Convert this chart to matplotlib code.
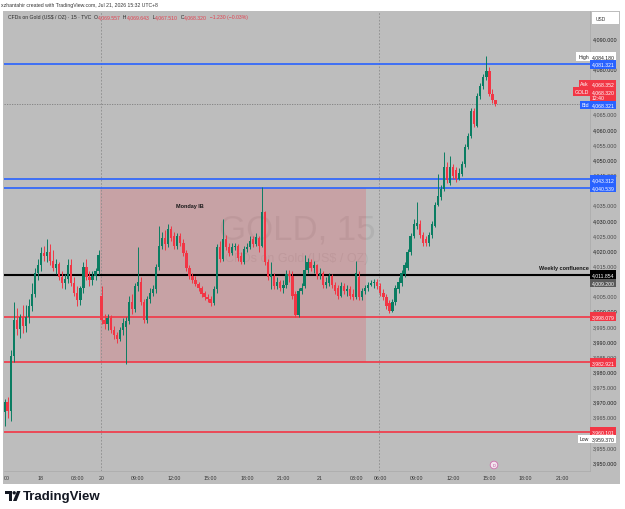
import numpy as np
import matplotlib
matplotlib.use("Agg")
import matplotlib.pyplot as plt
from matplotlib.patches import Rectangle, Circle, Polygon
from matplotlib.transforms import blended_transform_factory, offset_copy

plt.rcParams['font.family'] = ['Liberation Sans', 'DejaVu Sans']

# 15 min bars, UTC+8. (open, high, low, close)
# Fri 17 Jul 21:00 -> Sat 04:45
friday = [
    (3966.5, 3971.0, 3962.0, 3970.0), (3970.0, 3971.5, 3964.5, 3967.0),
    (3967.0, 3987.0, 3963.5, 3985.0), (3985.0, 4003.0, 3983.0, 3997.0),
    (3997.0, 4001.0, 3992.0, 3994.0), (3994.0, 3999.0, 3991.0, 3998.0),
    (3998.0, 4002.0, 3992.5, 3995.0), (3995.0, 4002.0, 3993.0, 3998.0),
    (3998.0, 4004.0, 3996.0, 4001.5), (4001.5, 4009.0, 4000.0, 4005.5),
    (4005.5, 4014.0, 4004.5, 4012.5), (4012.5, 4017.0, 4010.0, 4015.0),
    (4015.0, 4021.0, 4013.0, 4019.0), (4019.0, 4021.5, 4016.5, 4018.0),
    (4018.0, 4023.7, 4016.0, 4019.5), (4019.5, 4022.0, 4015.0, 4016.5),
    (4016.5, 4020.0, 4013.0, 4014.0), (4014.0, 4017.0, 4012.0, 4015.5),
    (4015.5, 4016.0, 4010.0, 4011.0), (4011.0, 4013.0, 4007.5, 4009.0),
    (4009.0, 4012.0, 4007.0, 4010.5), (4010.5, 4017.0, 4009.0, 4015.0),
    (4015.0, 4017.0, 4008.0, 4009.0), (4009.0, 4011.0, 4005.0, 4006.0),
    (4006.0, 4008.0, 4001.5, 4003.5), (4003.5, 4008.0, 4002.0, 4007.5),
    (4007.5, 4016.0, 4006.0, 4014.5), (4014.5, 4017.0, 4010.0, 4011.0),
    (4011.0, 4013.0, 4008.0, 4010.0), (4010.0, 4013.0, 4008.5, 4011.5),
    (4011.5, 4014.0, 4010.0, 4013.0), (4013.0, 4020.0, 4012.0, 4018.5),
]
# Mon 20 Jul 06:00 -> Tue 04:45
monday = [
    (4005.0, 4008.0, 3995.5, 3997.0), (3997.0, 3999.0, 3994.0, 3995.5),
    (3995.5, 3999.0, 3993.5, 3997.5), (3997.5, 3998.5, 3992.5, 3993.5),
    (3993.5, 3995.0, 3990.5, 3992.0), (3992.0, 3993.0, 3989.5, 3990.5),
    (3990.5, 3994.5, 3990.0, 3993.5), (3993.5, 3997.5, 3992.0, 3996.0),
    (3994.5, 3998.0, 3982.5, 3996.5), (3996.5, 4005.0, 3995.5, 4003.0),
    (4003.0, 4005.5, 3999.0, 4000.5), (4000.5, 4009.0, 3999.5, 4008.0),
    (4008.0, 4021.0, 4006.5, 4009.5), (4009.5, 4011.0, 4002.0, 4003.0),
    (4003.0, 4004.0, 3995.8, 3997.0), (3997.0, 4005.0, 3996.0, 4004.0),
    (4004.0, 4007.5, 4002.5, 4006.0), (4006.0, 4008.5, 4005.0, 4007.0),
    (4007.0, 4015.5, 4006.0, 4014.5), (4014.5, 4028.0, 4013.5, 4021.5),
    (4021.5, 4026.0, 4020.5, 4024.0), (4024.0, 4026.5, 4020.0, 4022.0),
    (4022.0, 4028.5, 4021.0, 4027.0), (4027.0, 4027.8, 4023.0, 4024.0),
    (4024.5, 4026.0, 4020.5, 4021.5), (4021.5, 4025.5, 4020.5, 4024.5),
    (4024.5, 4025.5, 4021.5, 4022.5), (4022.5, 4023.5, 4018.0, 4019.0),
    (4019.0, 4020.0, 4013.0, 4014.0), (4014.0, 4015.0, 4010.5, 4011.5),
    (4011.5, 4012.5, 4009.0, 4010.0), (4010.0, 4011.5, 4008.0, 4008.8),
    (4008.8, 4009.5, 4006.5, 4007.5), (4007.5, 4008.0, 4004.5, 4005.5),
    (4006.0, 4006.5, 4003.5, 4004.5), (4004.5, 4005.5, 4003.0, 4004.0),
    (4004.0, 4005.0, 4001.5, 4002.5), (4002.5, 4008.0, 4002.0, 4007.0),
    (4007.0, 4022.0, 4006.0, 4021.0), (4021.0, 4023.0, 4016.0, 4017.0),
    (4017.0, 4030.3, 4016.5, 4023.5), (4023.5, 4025.0, 4020.0, 4021.0),
    (4021.0, 4022.5, 4018.0, 4019.0), (4019.0, 4022.5, 4018.5, 4021.0),
    (4021.0, 4022.5, 4020.0, 4021.5), (4021.5, 4022.0, 4016.5, 4017.5),
    (4018.0, 4019.5, 4015.5, 4016.0), (4016.0, 4021.5, 4015.5, 4020.5),
    (4020.5, 4022.5, 4019.5, 4021.0), (4021.0, 4024.5, 4020.5, 4023.0),
    (4023.5, 4024.5, 4021.0, 4022.0), (4022.0, 4025.5, 4021.5, 4024.3),
    (4024.0, 4024.5, 4019.5, 4021.5), (4021.5, 4040.8, 4021.0, 4032.5),
    (4032.5, 4033.0, 4015.0, 4016.0), (4016.0, 4017.0, 4010.0, 4011.0),
    (4011.0, 4016.0, 4007.0, 4012.0), (4011.5, 4012.5, 4007.0, 4008.0),
    (4008.0, 4011.0, 4007.0, 4009.5), (4009.5, 4010.0, 4006.5, 4007.5),
    (4007.5, 4010.0, 4006.0, 4008.5), (4008.5, 4013.5, 4007.5, 4012.0),
    (4012.0, 4013.5, 4009.5, 4011.5), (4011.5, 4013.0, 4004.0, 4005.0),
    (4005.5, 4006.5, 3997.8, 3998.5), (3998.5, 4007.5, 3998.0, 4006.5),
    (4006.5, 4009.0, 4005.5, 4007.5), (4008.0, 4018.5, 4007.5, 4013.5),
    (4013.5, 4017.5, 4012.5, 4016.0), (4016.0, 4017.0, 4013.0, 4014.0),
    (4014.0, 4016.5, 4012.5, 4015.0), (4015.0, 4015.5, 4010.5, 4011.5),
    (4011.5, 4014.0, 4010.5, 4012.5), (4012.5, 4013.0, 4007.5, 4008.5),
    (4008.5, 4011.0, 4007.5, 4009.5), (4009.0, 4012.5, 4008.0, 4011.5),
    (4011.5, 4012.0, 4007.5, 4008.5), (4008.5, 4009.5, 4005.5, 4006.5),
    (4007.5, 4008.5, 4004.0, 4005.0), (4005.0, 4009.5, 4004.5, 4008.0),
    (4008.0, 4009.0, 4005.5, 4006.5), (4006.5, 4008.5, 4005.0, 4007.0),
    (4007.0, 4008.0, 4004.0, 4005.0), (4005.5, 4007.0, 4003.5, 4004.5),
    (4004.5, 4016.5, 4004.0, 4012.5), (4011.0, 4013.0, 4003.5, 4004.5),
    (4004.5, 4007.5, 4003.5, 4006.5), (4006.5, 4008.5, 4005.5, 4007.5),
    (4007.5, 4009.5, 4006.5, 4008.5), (4008.5, 4010.0, 4008.0, 4009.0),
    (4009.0, 4010.5, 4007.5, 4009.5), (4009.5, 4010.5, 4007.0, 4008.0),
]
# Tue 21 Jul 06:00 -> 15:30
tuesday = [
    (4008.0, 4009.0, 4005.0, 4006.0), (4006.0, 4007.0, 4003.5, 4004.5),
    (4004.5, 4005.5, 4000.5, 4001.5), (4002.5, 4003.5, 3999.3, 4000.0),
    (4000.0, 4004.0, 3999.5, 4003.0), (4003.0, 4008.5, 4002.0, 4007.5),
    (4007.0, 4011.0, 4006.0, 4009.5), (4009.0, 4013.5, 4008.0, 4012.5),
    (4012.0, 4016.0, 4011.0, 4015.0), (4014.0, 4020.5, 4013.5, 4019.5),
    (4019.5, 4025.5, 4018.5, 4024.5), (4024.5, 4030.3, 4024.0, 4028.5),
    (4028.0, 4036.0, 4027.0, 4029.0), (4028.5, 4030.0, 4024.0, 4025.0),
    (4025.0, 4026.0, 4021.5, 4022.5), (4023.5, 4024.5, 4021.5, 4022.5),
    (4022.5, 4026.0, 4021.5, 4025.0), (4025.0, 4029.5, 4024.0, 4028.5),
    (4028.0, 4036.0, 4027.5, 4035.0), (4035.0, 4045.0, 4034.5, 4038.0),
    (4037.5, 4041.5, 4036.5, 4040.2), (4040.0, 4052.4, 4039.5, 4047.5),
    (4047.5, 4049.0, 4042.0, 4043.0), (4042.0, 4051.0, 4041.5, 4047.5),
    (4047.5, 4048.5, 4043.5, 4044.5), (4046.5, 4047.5, 4042.5, 4043.5),
    (4043.5, 4047.0, 4043.0, 4045.5), (4045.0, 4049.5, 4044.5, 4048.5),
    (4048.5, 4055.0, 4047.5, 4054.0), (4054.0, 4058.5, 4053.5, 4057.5),
    (4057.5, 4067.0, 4057.0, 4066.0), (4066.0, 4067.0, 4060.5, 4061.5),
    (4061.0, 4072.0, 4060.5, 4071.0), (4071.0, 4075.0, 4070.0, 4074.0),
    (4074.0, 4078.0, 4073.0, 4077.0), (4077.0, 4084.18, 4076.0, 4079.0),
    (4079.0, 4080.5, 4071.0, 4071.5), (4071.5, 4073.0, 4068.5, 4069.5),
    (4069.557, 4069.643, 4067.51, 4068.32),
]

blue_levels = [4081.321, 4043.312, 4040.539]
red_levels = [3998.079, 3982.921, 3960.101]
weekly_confluence = 4011.854
prev_close = 4009.200
last_price = 4068.320
ask_price = 4068.352
bid_price = 4068.321
day_high = 4084.180
day_low = 3959.370
countdown = "12:40"

# Monday initial balance box (bars) and session breaks
ib_bars = (31.6, 119.4)
session_breaks = [31.8, 123.6]

time_pos = [0.8, 12, 24, 32, 44, 56, 68, 80, 92, 104, 116, 124, 136, 148, 160, 172, 184]
time_labels = ["00", "18", "03:00", "20", "09:00", "12:00", "15:00", "18:00", "21:00",
               "21", "03:00", "06:00", "09:00", "12:00", "15:00", "18:00", "21:00"]
price_ticks = [4090, 4080, 4065, 4060, 4055, 4050, 4045, 4035, 4030, 4025, 4020, 4015,
               4005, 4000, 3995, 3990, 3985, 3980, 3975, 3970, 3965, 3955, 3950]

UP = "#0a7d62"
DOWN = "#f23645"
BLUE = "#2962ff"
BG = "#bdbdbd"
W, H = 625, 510

fig = plt.figure(figsize=(W / 100, H / 100), dpi=100)
fig.patch.set_facecolor("white")

# pixel canvas for frame and decorations
bg = fig.add_axes([0, 0, 1, 1], zorder=0)
bg.set_xlim(0, W)
bg.set_ylim(H, 0)
bg.axis("off")
bg.add_patch(Rectangle((3, 12), 617, 473, fc=BG, ec="none"))

ax = fig.add_axes([4 / W, 1 - 472 / H, 586 / W, 460 / H], zorder=1)
ax.set_facecolor(BG)
xmin = -0.2
ax.set_xlim(xmin, xmin + 586 / 3.03)
ax.set_ylim(3947.1, 4098.9)
for s in ["top", "left"]:
    ax.spines[s].set_visible(False)
for s in ["right", "bottom"]:
    ax.spines[s].set_color("#a9a9a9")
    ax.spines[s].set_linewidth(0.5)

ohlc = np.array(friday + monday + tuesday)
o, h, l, c = ohlc.T
x = np.arange(len(o))
col = np.where(c >= o, UP, DOWN)

# watermark
ax.text(0.5, 0.526, "GOLD, 15", transform=ax.transAxes, ha="center", va="center",
        fontsize=25, color="#8a8a8a", alpha=0.22, zorder=0.5)
ax.text(0.5, 0.463, "CFDs on Gold (US$ / OZ)", transform=ax.transAxes, ha="center",
        va="center", fontsize=9, color="#8a8a8a", alpha=0.22, zorder=0.5)

# Monday IB box
ax.add_patch(Rectangle((ib_bars[0], red_levels[1]), ib_bars[1] - ib_bars[0],
                       blue_levels[2] - red_levels[1], fc=DOWN, alpha=0.2, ec="none", zorder=1))
ax.text(61, 4034.6, "Monday IB", ha="center", va="center", fontsize=4,
        fontweight="bold", color="#1a1a1a", zorder=4)

for b in session_breaks:
    ax.axvline(b, color="#8c8c8c", lw=0.6, ls=(0, (2, 2)), zorder=1.5)
ax.axhline(last_price, color="#7d7d7d", lw=0.6, ls=(0, (1.5, 1.5)), zorder=1.5)

for lv in blue_levels:
    ax.axhline(lv, color=BLUE, lw=1.2, zorder=2)
for lv in red_levels:
    ax.axhline(lv, color=DOWN, lw=1.2, zorder=2)
ax.axhline(weekly_confluence, color="black", lw=1.5, zorder=2)
ax.text(0.998, 4014.4, "Weekly confluence", transform=blended_transform_factory(ax.transAxes, ax.transData),
        ha="right", va="center", fontsize=4, fontweight="bold", color="#1a1a1a", zorder=4)

# candles
ax.vlines(x, l, h, colors=col, lw=0.7, zorder=3)
ax.bar(x, np.maximum(np.abs(c - o), 0.4), bottom=np.minimum(o, c), width=0.76,
       color=col, linewidth=0, zorder=3)

# axes ticks
ax.yaxis.tick_right()
ax.set_yticks(price_ticks)
ax.set_yticklabels([f"{p:,.3f}" for p in price_ticks])
ax.tick_params(axis="y", length=0, pad=2.2, labelsize=3.9)
for p, t in zip(price_ticks, ax.get_yticklabels()):
    t.set_color("#1e1e1e" if p % 10 == 0 else "#4a4a4a")
ax.set_xticks(time_pos)
ax.set_xticklabels(time_labels)
ax.tick_params(axis="x", length=0, pad=3, labelsize=3.8, labelcolor="#333333")

# price scale tags
tr = blended_transform_factory(fig.transFigure, ax.transData)


def tag(price, text, fc, tc="white", dy_px=0, left=False):
    t = offset_copy(tr, fig=fig, x=0, y=dy_px * 0.72, units="points")
    xx = 589 / W if left else 591.5 / W
    ax.text(xx, price, text, transform=t, ha="right" if left else "left", va="center",
            fontsize=3.7, color=tc, linespacing=1.15, zorder=6, clip_on=False,
            bbox=dict(boxstyle="square,pad=0.35", fc=fc, ec="none"))


tag(day_high, "High", "white", "#222222", -1, left=True)
tag(day_high, f"{day_high:,.3f}", "white", "#222222", -1)
tag(blue_levels[0], f"{blue_levels[0]:,.3f}", BLUE)
tag(last_price, "Ask", DOWN, dy_px=19.7, left=True)
tag(last_price, f"{ask_price:,.3f}", DOWN, dy_px=19.7)
tag(last_price, "GOLD", DOWN, dy_px=12, left=True)
tag(last_price, f"{last_price:,.3f}\n{countdown}", DOWN, dy_px=9)
tag(last_price, "Bid", BLUE, dy_px=-1.3, left=True)
tag(last_price, f"{bid_price:,.3f}", BLUE, dy_px=-1.3)
tag(blue_levels[1], f"{blue_levels[1]:,.3f}", BLUE)
tag(blue_levels[2], f"{blue_levels[2]:,.3f}", BLUE)
tag(weekly_confluence, f"{weekly_confluence:,.3f}", "black")
tag(prev_close, f"{prev_close:,.3f}", "#5a5a5a")
for lv in red_levels:
    tag(lv, f"{lv:,.3f}", DOWN)
tag(day_low, "Low", "white", "#222222", -5, left=True)
tag(day_low, f"{day_low:,.3f}", "white", "#222222", -5)

# USD box
bg.add_patch(Rectangle((592, 13), 27, 12, fc="white", ec="none"))
ov = fig.add_axes([0, 0, 1, 1], zorder=7)
ov.set_xlim(0, W)
ov.set_ylim(H, 0)
ov.axis("off")
ov.patch.set_alpha(0)
ov.text(596, 19.5, "USD", fontsize=3.5, va="center", color="#333333")

# header lines
ov.text(1, 5, "xzhantahir created with TradingView.com, Jul 21, 2026 15:32 UTC+8",
        fontsize=3.7, va="center", color="#333333")

renderer = fig.canvas.get_renderer()
hx = 7.5
red_txt = "#e2404f"
parts = [("CFDs on Gold (US$ / OZ) · 15 · TVC  ", "#2a2a2a"), ("O", "#2a2a2a"),
         ("4,069.557", red_txt), ("  H", "#2a2a2a"), ("4,069.643", red_txt),
         ("  L", "#2a2a2a"), ("4,067.510", red_txt), ("  C", "#2a2a2a"),
         ("4,068.320", red_txt), ("  −1.230 (−0.03%)", red_txt)]
for s, cl in parts:
    t = ov.text(hx, 17.5, s, fontsize=3.7, va="center", ha="left", color=cl)
    hx += t.get_window_extent(renderer=renderer).width

# event marker
ov.add_patch(Circle((494, 466), 3.8, fc="#f3e4ee", ec="#cf6fae", lw=0.6))
ov.text(494, 466.3, "D", fontsize=2.8, ha="center", va="center", color="#b04a90")

# TradingView logo
ov.add_patch(Rectangle((5, 492), 7, 3.2, fc="#131722", ec="none"))
ov.add_patch(Rectangle((8.6, 492), 3.4, 10, fc="#131722", ec="none"))
ov.add_patch(Circle((14.2, 493.8), 1.7, fc="#131722", ec="none"))
ov.add_patch(Polygon([(17.0, 492), (20.5, 492), (16.6, 502), (13.0, 502)], fc="#131722", ec="none"))
ov.text(23, 497, "TradingView", fontsize=9.5, fontweight="bold", va="center", color="#131722")

fig.savefig("out.png", dpi=100, facecolor="white")
